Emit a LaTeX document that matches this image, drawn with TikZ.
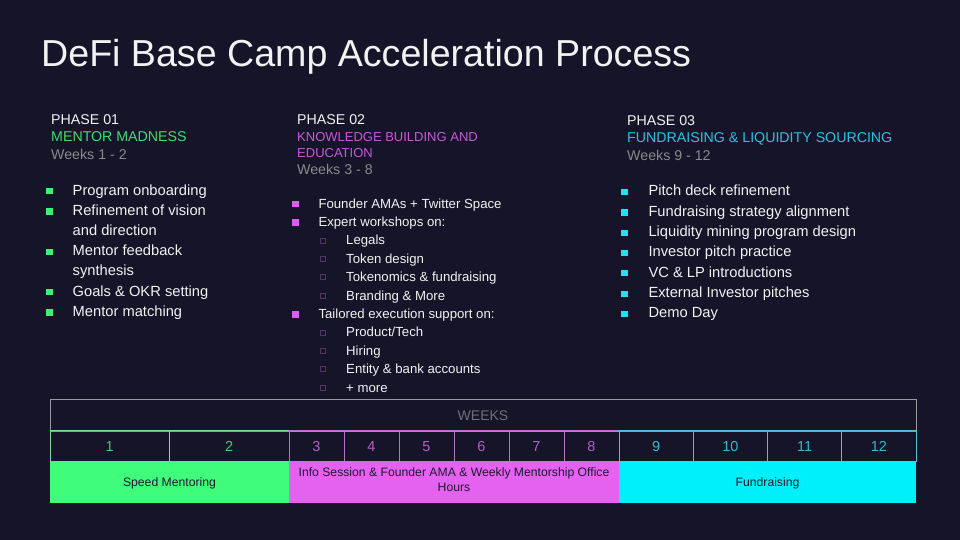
\documentclass[tikz,border=0pt]{standalone}
\usepackage{fontspec}
\setmainfont{Liberation Sans}
\usetikzlibrary{positioning}

\definecolor{bgnavy}{HTML}{151428}
\definecolor{txtwhite}{HTML}{F2F2F2}
\definecolor{wkgray}{HTML}{8A8A8A}
\definecolor{boxgray}{HTML}{9A9A9E}
\definecolor{lblgray}{HTML}{707078}
\definecolor{barText}{HTML}{1C1A30}
% phase colours
\definecolor{grnHead}{HTML}{3DDC78}
\definecolor{grnBlt}{HTML}{3CF07A}
\definecolor{grnBar}{HTML}{3FFC7B}
\definecolor{grnLine}{HTML}{86D8A0}
\definecolor{grnNum}{HTML}{45C97A}
\definecolor{magHead}{HTML}{C45AD6}
\definecolor{magBlt}{HTML}{D860EC}
\definecolor{magSub}{HTML}{553566}
\definecolor{magBar}{HTML}{E562F0}
\definecolor{magLine}{HTML}{B374C6}
\definecolor{magNum}{HTML}{B45FC8}
\definecolor{cynHead}{HTML}{26C4E0}
\definecolor{cynBlt}{HTML}{1CE4F4}
\definecolor{cynBar}{HTML}{00F0FB}
\definecolor{cynLine}{HTML}{4EC3D2}
\definecolor{cynNum}{HTML}{2FB9D3}

\newcommand{\fsz}[2]{\fontsize{#1}{#2}\selectfont}

\begin{document}
\begin{tikzpicture}[
    x=1pt, y=-1pt,
    lbl/.style       ={anchor=base west, inner sep=0pt, align=left, text=txtwhite},
    maintitle/.style ={lbl, font=\fsz{37.6}{44}},
    phasehd/.style   ={lbl, font=\fsz{14.2}{17.5}},
    itm/.style       ={lbl, font=\fsz{14.7}{20.2}},
    itmsmall/.style  ={lbl, font=\fsz{13.2}{18.4}},
    blt/.style       ={fill=#1, minimum size=6.2pt, inner sep=0pt, outer sep=0pt},
    subblt/.style    ={draw=#1, line width=0.8pt, minimum size=5pt, inner sep=0pt},
    weekcell/.style  ={draw=#1Line, text=#1Num, minimum height=30.5pt, inner sep=0pt,
                       text height=10.4pt, text depth=0pt,
                       line width=0.9pt, font=\fsz{14.5}{17}},
    phasebar/.style  ={fill=#1, minimum height=41.5pt, inner sep=0pt, align=center,
                       text height=8.8pt, text depth=0pt,
                       text=barText, font=\fsz{12.2}{14.5}}
]
\useasboundingbox (0,0) rectangle (960,540);
\fill[bgnavy] (0,0) rectangle (960,540);

% =================== TITLE ===================
\node[maintitle] (title) at (41,67) {DeFi Base Camp Acceleration Process};

% =================== PHASE 01 ===================
\node[phasehd] (ph1) at (51,125) {PHASE 01};
\node[phasehd, text=grnHead] (ph1name) at (51,142) {MENTOR MADNESS};
\node[phasehd, text=wkgray] (ph1wk) at (51,160) {Weeks 1 - 2};

% \n = first line (bullet), \m = last line (base of node)
\foreach \n/\m/\txt in {0/0/Program onboarding, 1/2/{Refinement of vision\\and direction},
                        3/4/{Mentor feedback\\synthesis}, 5/5/Goals \& OKR setting,
                        6/6/Mentor matching}{
  \node[itm] (pa\n) at (72.5,{195+20.2*\m}) {\txt};
  \node[blt=grnBlt] (pab\n) at (49.5,{191.2+20.2*\n}) {};
}

% =================== PHASE 02 ===================
\node[phasehd] (ph2) at (297,125) {PHASE 02};
\node[lbl, font=\fsz{13}{15.8}, text=magHead] (ph2name) at (297,157.5)
    {KNOWLEDGE BUILDING AND\\EDUCATION};
\node[phasehd, text=wkgray] (ph2wk) at (297,174.5) {Weeks 3 - 8};

% main points
\foreach \i/\txt in {1/Founder AMAs + Twitter Space, 2/Expert workshops on:,
                     7/Tailored execution support on:}{
  \node[itmsmall] (pb\i) at (318.3,{189.6+18.4*\i}) {\txt};
  \node[blt=magBlt] (pbb\i) at (295.5,{185.7+18.4*\i}) {};
}
% sub points
\foreach \i/\txt in {3/Legals, 4/Token design, 5/Tokenomics \& fundraising, 6/Branding \& More,
                     8/{Product/Tech}, 9/Hiring, 10/Entity \& bank accounts, 11/+ more}{
  \node[itmsmall] (pb\i) at (346,{189.6+18.4*\i}) {\txt};
  \node[subblt=magSub] (pbb\i) at (322.8,{185.3+18.4*\i}) {};
}

% =================== PHASE 03 ===================
\node[phasehd] (ph3) at (627,126) {PHASE 03};
\node[phasehd, text=cynHead] (ph3name) at (627,143) {FUNDRAISING \& LIQUIDITY SOURCING};
\node[phasehd, text=wkgray] (ph3wk) at (627,160.5) {Weeks 9 - 12};

\foreach \txt [count=\i] in {Pitch deck refinement, Fundraising strategy alignment,
                             Liquidity mining program design, Investor pitch practice,
                             VC \& LP introductions, External Investor pitches, Demo Day}{
  \node[itm] (pc\i) at (648.3,{175.5+20.3*\i}) {\txt};
  \node[blt=cynBlt] (pcb\i) at (624.5,{171.8+20.3*\i}) {};
}

% =================== WEEKS TABLE ===================
\node[draw=boxgray, line width=0.9pt, minimum width=866pt, minimum height=31.5pt,
      inner sep=0pt, text height=10pt, text depth=0pt, text=lblgray,
      font=\fsz{14}{17}] (weeks) at (483,415.25) {WEEKS};

\foreach \i/\xa/\xb/\c in {1/50/169.5/grn, 2/169.5/289/grn,
                           3/289/344/mag, 4/344/399/mag, 5/399/454/mag,
                           6/454/509/mag, 7/509/564/mag, 8/564/619/mag,
                           9/619/693.25/cyn, 10/693.25/767.5/cyn,
                           11/767.5/841.75/cyn, 12/841.75/916/cyn}{
  \node[weekcell=\c, minimum width={\xb pt-\xa pt}] (wk\i) at ({(\xa+\xb)/2},446) {\i};
}

% phase bars
\node[phasebar=grnBar, minimum width=239pt] (speed) at (169.5,481.75) {Speed Mentoring};
\node[phasebar=magBar, minimum width=330pt, text height=, text depth=4pt] (info)
    at (454,481.75) {Info Session \& Founder AMA \& Weekly Mentorship Office\\Hours};
\node[phasebar=cynBar, minimum width=297pt] (fund) at (767.5,481.75) {Fundraising};

\end{tikzpicture}
\end{document}
